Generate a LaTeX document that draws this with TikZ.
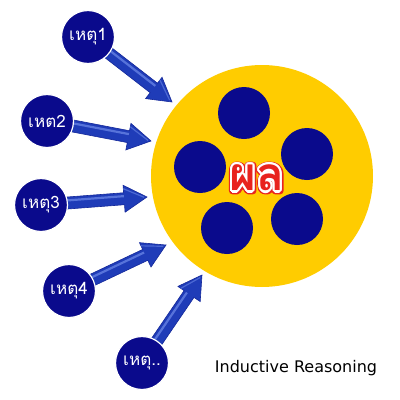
\documentclass[tikz,border=0pt]{standalone}
\usepackage{fontspec}
\newfontfamily\thaifont[Script=Thai]{Loma}
\newfontfamily\labelfont{DejaVu Sans}
\usetikzlibrary{calc}
\definecolor{navy}{HTML}{0A0A8C}
\definecolor{gold}{HTML}{FFCC00}
\definecolor{arrowblue}{HTML}{1F3CB8}
\definecolor{arrowdark}{HTML}{14289A}
\definecolor{arrowlight}{HTML}{6A86E6}
\definecolor{resultred}{HTML}{E8231E}
\tikzset{
  cause/.style={circle, fill=navy, draw=white, line width=1.2pt, minimum size=53pt, inner sep=0pt,
    text=white, font=\thaifont\fontsize{17}{17}\selectfont},
  dot/.style={circle, fill=navy, minimum size=52pt, inner sep=0pt},
  result/.style={inner sep=0pt, font=\thaifont\bfseries\fontsize{46}{46}\selectfont},
}
\newcommand\strokedtext[3]{% stroke rgb, width, text
  \special{pdf:literal direct #1 RG #2 w 1 j 2 Tr}#3\special{pdf:literal direct 0 Tr}}
\newcommand\blockarrow[3]{%
  \coordinate (#3b) at ($(#2)!23pt!(#1)$);
  \coordinate (#3s) at ($(#1)!18pt!(#2)$);
  \fill[arrowblue, draw=arrowdark, line width=0.6pt, line join=miter]
    ($(#3s)!6pt!90:(#2)$) -- ($(#3b)!6pt!90:(#2)$) -- ($(#3b)!13.5pt!90:(#2)$) -- (#2)
    -- ($(#3b)!13.5pt!-90:(#2)$) -- ($(#3b)!6pt!-90:(#2)$) -- ($(#3s)!6pt!-90:(#2)$) -- cycle;
  \draw[arrowlight, line width=2.2pt, opacity=.75] ($(#3s)!2.6pt!90:(#2)$) -- ($(#3b)!2.6pt!90:(#2)$);
  \draw[arrowlight, line width=1.2pt, opacity=.6] ($(#3b)!10pt!90:(#2)$) -- ($(#2)!3pt!(#3b)$);
}
\begin{document}
\begin{tikzpicture}[x=1pt, y=-1pt]
\useasboundingbox (0,0) rectangle (400,400);
% result circle
\node[circle, fill=gold, minimum size=222pt, inner sep=0pt] (big) at (262,176) {};
% tips
\coordinate (t1) at (172,102);
\coordinate (t2) at (151,141);
\coordinate (t3) at (147,197);
\coordinate (t4) at (166,245);
\coordinate (t5) at (202,275);
% cause circles positions
\coordinate (p1) at (88,37);
\coordinate (p2) at (47,121);
\coordinate (p3) at (41,205);
\coordinate (p4) at (69,291);
\coordinate (p5) at (142,363);
\blockarrow{p1}{t1}{a1}
\blockarrow{p2}{t2}{a2}
\blockarrow{p3}{t3}{a3}
\blockarrow{p4}{t4}{a4}
\blockarrow{p5}{t5}{a5}
\node[cause] (c1) at (p1) {เหตุ1};
\node[cause] (c2) at (p2) {เหต2};
\node[cause] (c3) at (p3) {เหตุ3};
\node[cause] (c4) at (p4) {เหตุ4};
\node[cause] (c5) at (p5) {เหตุ..};
% inner dots
\node[dot] (d1) at (244,113) {};
\node[dot] (d2) at (307,154) {};
\node[dot] (d3) at (200,167) {};
\node[dot] (d4) at (227,228) {};
\node[dot] (d5) at (297,219) {};
% result label with outline: red outer rim, white rim, red fill
\node[result, text=resultred] (res) at (257,178) {\strokedtext{0.91 0.14 0.12}{7}{ผล}};
\foreach \a in {0,30,...,330}{
  \node[result, text=white] (wo\a) at ($(res.center)+(\a:2.2pt)$) {ผล};
}
\node[result, text=resultred] (resr) at (res.center) {ผล};
\node[font=\labelfont\fontsize{16}{16}\selectfont, anchor=base] (title) at (296,372) {Inductive Reasoning};
\end{tikzpicture}
\end{document}
